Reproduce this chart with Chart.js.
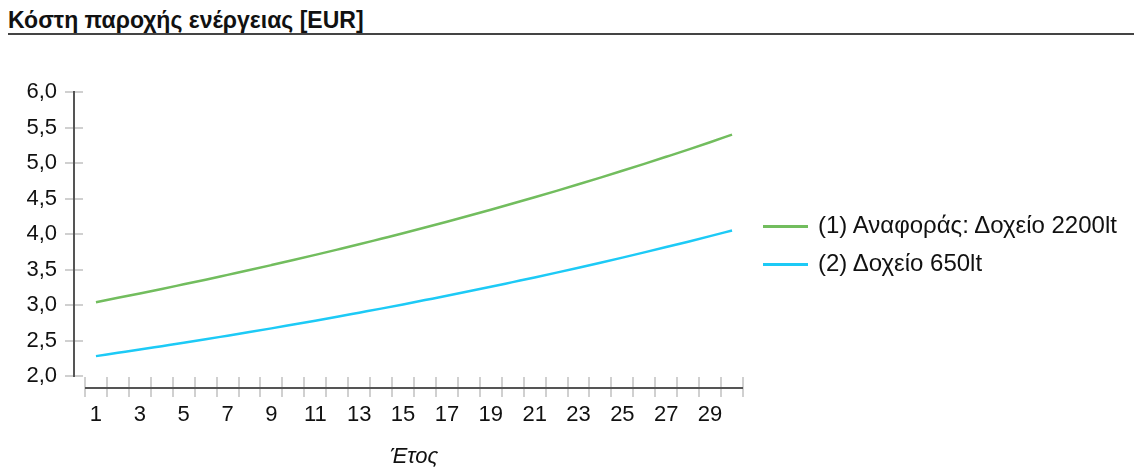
<!DOCTYPE html>
<html>
<head>
<meta charset="utf-8">
<script src="https://cdn.jsdelivr.net/npm/chart.js@4"></script>
<style>
  body { margin: 0; background: #fff; }
  #wrap { position: relative; width: 1134px; height: 470px; }
  #title {
    position: absolute; left: 8px; top: 7px; right: 0;
    font: bold 23px/26px "Liberation Sans", Arial, sans-serif; color: #111;
    border-bottom: 2px solid #444;
  }
  canvas { position: absolute; left: 0; top: 0; }
  #legend {
    position: absolute; left: 763px; top: 206px;
    font: 24px/38px "Liberation Sans", Arial, sans-serif; color: #111;
  }
  #legend div { white-space: nowrap; }
  #legend span.sw { display: inline-block; width: 45px; height: 3px; margin-right: 10px; vertical-align: middle; }
</style>
</head>
<body>
<div id="wrap">
  <div id="title">Κόστη παροχής ενέργειας [EUR]</div>
  <canvas id="myChart" width="1134" height="470"></canvas>
  <div id="legend"></div>
</div>
<script>
// years on the x axis
var years = [1,2,3,4,5,6,7,8,9,10,11,12,13,14,15,16,17,18,19,20,21,22,23,24,25,26,27,28,29,30];

// (1) reference: 2200lt tank
var tank2200 = [3.040,3.101,3.163,3.226,3.291,3.356,3.424,3.492,3.562,3.633,3.706,3.780,3.855,3.933,4.011,
                4.091,4.173,4.257,4.342,4.429,4.518,4.608,4.700,4.794,4.890,4.988,5.088,5.189,5.293,5.399];
// (2) 650lt tank
var tank650 = [2.280,2.326,2.372,2.420,2.468,2.517,2.568,2.619,2.671,2.725,2.779,2.835,2.892,2.949,3.008,
               3.069,3.130,3.193,3.256,3.322,3.388,3.456,3.525,3.595,3.667,3.741,3.816,3.892,3.970,4.049];

var seriesNames = ["(1) Αναφοράς: Δοχείο 2200lt", "(2) Δοχείο 650lt"];
var yMin = 2, yMax = 6, yStep = 0.5;

var FONT = '"Liberation Sans", Arial, sans-serif';

// axis lines sit a bit away from the plot, with light tick marks crossing them
var axesPlugin = {
  id: 'axes',
  afterDraw: function(chart) {
    var ctx = chart.ctx, a = chart.chartArea, x = chart.scales.x, y = chart.scales.y;
    ctx.save();
    ctx.strokeStyle = '#d0d0d0';
    ctx.lineWidth = 2;
    y.ticks.forEach(function(t) {
      var py = Math.round(y.getPixelForValue(t.value));
      ctx.beginPath(); ctx.moveTo(a.left - 20, py); ctx.lineTo(a.left - 2, py); ctx.stroke();
    });
    for (var i = 0; i <= years.length; i++) {
      var px = Math.round(x.getPixelForValue(i - 0.5));
      ctx.beginPath(); ctx.moveTo(px, a.bottom + 1); ctx.lineTo(px, a.bottom + 21); ctx.stroke();
    }
    ctx.strokeStyle = '#555';
    ctx.beginPath(); ctx.moveTo(a.left - 11, y.getPixelForValue(yMax) - 1); ctx.lineTo(a.left - 11, y.getPixelForValue(yMin) + 1); ctx.stroke();
    ctx.beginPath(); ctx.moveTo(a.left, a.bottom + 12); ctx.lineTo(a.right, a.bottom + 12); ctx.stroke();
    ctx.restore();
  }
};

var ctx = document.getElementById('myChart').getContext('2d');
var chart = new Chart(ctx, {
  type: 'line',
  data: {
    labels: years,
    datasets: [{
      label: seriesNames[0],
      data: tank2200,
      borderColor: '#72bd5e',
      backgroundColor: '#72bd5e',
      borderWidth: 2.5,
      pointRadius: 0,
      cubicInterpolationMode: 'monotone'
    }, {
      label: seriesNames[1],
      data: tank650,
      borderColor: '#1dcaf6',
      backgroundColor: '#1dcaf6',
      borderWidth: 2.5,
      pointRadius: 0,
      cubicInterpolationMode: 'monotone'
    }]
  },
  options: {
    responsive: false,
    animation: false,
    layout: { padding: { top: 92, left: 0, right: 391, bottom: 0 } },
    plugins: {
      tooltip: { enabled: false },
      legend: { display: false }
    },
    scales: {
      x: {
        offset: true,
        grid: { display: false, drawTicks: false },
        border: { display: false },
        afterFit: function(s) { s.height = 94; },
        ticks: {
          autoSkip: false,
          maxRotation: 0,
          padding: 26,
          color: '#111',
          font: { family: FONT, size: 22 },
          callback: function(v, i) { return i % 2 === 0 ? years[i] : ''; }
        },
        title: {
          display: true,
          text: 'Έτος',
          color: '#111',
          font: { family: FONT, size: 22, style: 'italic' },
          padding: { top: 0, bottom: 0 }
        }
      },
      y: {
        min: yMin,
        max: yMax,
        grid: { display: false, drawTicks: false },
        border: { display: false },
        afterFit: function(s) { s.width = 85; },
        ticks: {
          stepSize: yStep,
          padding: 28,
          color: '#111',
          font: { family: FONT, size: 22 },
          callback: function(v) { return v.toFixed(1).replace('.', ','); }
        }
      }
    }
  },
  plugins: [axesPlugin]
});

// legend on the right, built from the chart's datasets
var legendBox = document.getElementById('legend');
chart.data.datasets.forEach(function(ds) {
  var row = document.createElement('div');
  var sw = document.createElement('span');
  sw.className = 'sw';
  sw.style.background = ds.borderColor;
  row.appendChild(sw);
  row.appendChild(document.createTextNode(ds.label));
  legendBox.appendChild(row);
});
</script>
</body>
</html>
